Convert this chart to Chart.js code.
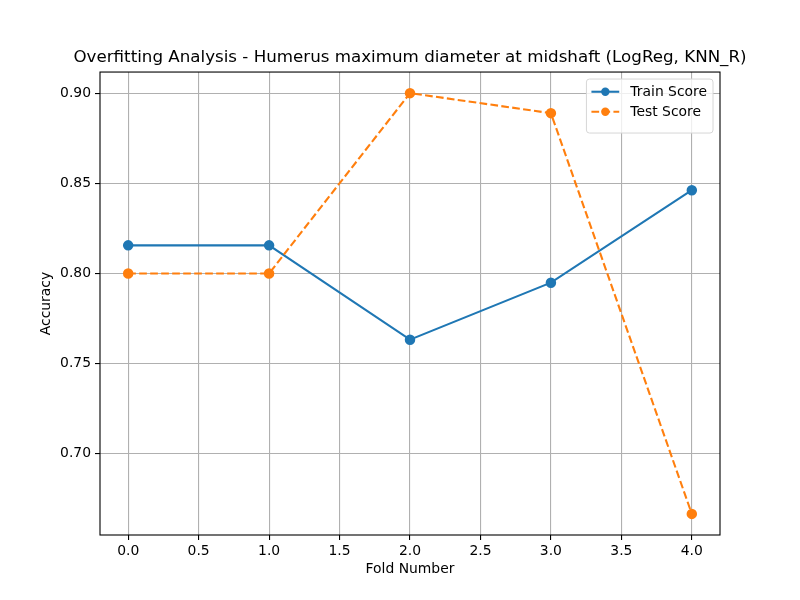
<!DOCTYPE html>
<html>
<head>
<meta charset="utf-8">
<script src="https://cdn.jsdelivr.net/npm/chart.js@4/dist/chart.umd.min.js"></script>
<style>
  html, body { margin: 0; padding: 0; background: #fff; }
  #wrap { width: 800px; height: 600px; }
</style>
</head>
<body>
<div id="wrap"><canvas id="chart" width="800" height="600"></canvas></div>
<script>
// values
const foldNumbers = [0, 1, 2, 3, 4];
const trainScores = [0.8156, 0.8156, 0.7633, 0.7949, 0.8462];
const testScores = [0.8, 0.8, 0.9, 0.8889, 0.6667];
const xTickValues = [0, 0.5, 1, 1.5, 2, 2.5, 3, 3.5, 4];
const yTickValues = [0.70, 0.75, 0.80, 0.85, 0.90];

const titleText = 'Overfitting Analysis - Humerus maximum diameter at midshaft (LogReg, KNN_R)';
const fontFamily = '"DejaVu Sans", sans-serif';
const blue = '#1f77b4';
const orange = '#ff7f0e';

Chart.defaults.font.family = fontFamily;
Chart.defaults.color = '#000';

function toPoints(ys) {
  return foldNumbers.map((x, i) => ({ x: x, y: ys[i] }));
}

// black box round the plot area plus matplotlib-like legend in the upper right
const framePlugin = {
  id: 'frame',
  afterDraw(chart) {
    const { ctx, chartArea } = chart;
    ctx.save();
    ctx.strokeStyle = '#000';
    ctx.lineWidth = 1.1;
    ctx.strokeRect(chartArea.left, chartArea.top, chartArea.right - chartArea.left, chartArea.bottom - chartArea.top);

    // legend
    const fs = 13.9;
    ctx.font = fs + 'px ' + fontFamily;
    const sets = chart.data.datasets;
    const textW = Math.max(...sets.map(d => ctx.measureText(d.label).width));
    const w = 5 + 2 * fs + 0.8 * fs + textW + 6;
    const h = 14 + sets.length * 20;
    const x0 = chartArea.right - 7 - w;
    const y0 = chartArea.top + 7;
    ctx.beginPath();
    ctx.roundRect(x0, y0, w, h, 3);
    ctx.fillStyle = 'rgba(255,255,255,0.8)';
    ctx.fill();
    ctx.strokeStyle = '#d6d6d6';
    ctx.lineWidth = 1;
    ctx.stroke();

    sets.forEach((d, i) => {
      const cy = y0 + 12.7 + i * 20;
      const hx = x0 + 5;
      ctx.strokeStyle = d.borderColor;
      ctx.lineWidth = d.borderWidth;
      ctx.setLineDash(d.borderDash || []);
      ctx.beginPath();
      ctx.moveTo(hx, cy);
      ctx.lineTo(hx + 2 * fs, cy);
      ctx.stroke();
      ctx.setLineDash([]);
      ctx.fillStyle = d.pointBackgroundColor;
      ctx.beginPath();
      ctx.arc(hx + fs, cy, d.pointRadius, 0, Math.PI * 2);
      ctx.fill();
      ctx.fillStyle = '#000';
      ctx.textBaseline = 'middle';
      ctx.textAlign = 'left';
      ctx.fillText(d.label, hx + 2 * fs + 0.8 * fs, cy + 1);
    });
    ctx.restore();
  }
};

new Chart(document.getElementById('chart').getContext('2d'), {
  type: 'scatter',
  data: {
    datasets: [
      {
        label: 'Train Score',
        data: toPoints(trainScores),
        showLine: true,
        borderColor: blue,
        backgroundColor: blue,
        pointBackgroundColor: blue,
        pointBorderColor: blue,
        borderWidth: 2.1,
        pointRadius: 4.2,
        pointHoverRadius: 4.2,
        order: 1
      },
      {
        label: 'Test Score',
        data: toPoints(testScores),
        showLine: true,
        borderColor: orange,
        backgroundColor: orange,
        pointBackgroundColor: orange,
        pointBorderColor: orange,
        borderWidth: 2.1,
        borderDash: [7.7, 3.3],
        pointRadius: 4.2,
        pointHoverRadius: 4.2,
        order: 0
      }
    ]
  },
  options: {
    responsive: false,
    animation: false,
    devicePixelRatio: 1,
    layout: { padding: { left: 20, right: 0, top: 0, bottom: 0 } },
    plugins: {
      legend: { display: false },
      tooltip: { enabled: false },
      title: {
        display: true,
        text: titleText,
        fullSize: true,
        color: '#000',
        font: { size: 16.7, weight: 'normal' },
        padding: { top: 48, bottom: 4 }
      }
    },
    scales: {
      x: {
        type: 'linear',
        min: -0.2,
        max: 4.2,
        afterBuildTicks(scale) {
          scale.ticks = xTickValues.map(v => ({ value: v }));
        },
        afterFit(scale) { scale.height = 65; },
        ticks: {
          font: { size: 13.9 },
          color: '#000',
          padding: 3,
          maxRotation: 0,
          autoSkip: false,
          callback: v => v.toFixed(1)
        },
        grid: { color: '#b0b0b0', lineWidth: 1.1, tickColor: '#000', tickLength: 5 },
        border: { display: false },
        title: {
          display: true,
          text: 'Fold Number',
          color: '#000',
          font: { size: 13.9 },
          padding: { top: 0, bottom: 22.5 }
        }
      },
      y: {
        type: 'linear',
        min: 0.6550,
        max: 0.9117,
        afterBuildTicks(scale) {
          scale.ticks = yTickValues.map(v => ({ value: v }));
        },
        afterFit(scale) { scale.width = 80; },
        ticks: {
          font: { size: 13.9 },
          color: '#000',
          padding: 4,
          autoSkip: false,
          callback: v => v.toFixed(2)
        },
        grid: { color: '#b0b0b0', lineWidth: 1.1, tickColor: '#000', tickLength: 5 },
        border: { display: false },
        title: {
          display: true,
          text: 'Accuracy',
          color: '#000',
          font: { size: 13.9 },
          padding: { top: 18, bottom: 0 }
        }
      },
      // empty axis on the right, only keeps the margin
      spacer: {
        type: 'linear',
        position: 'right',
        afterFit(scale) { scale.width = 80; },
        ticks: { display: false },
        grid: { display: false },
        border: { display: false }
      }
    }
  },
  plugins: [framePlugin]
});
</script>
</body>
</html>
